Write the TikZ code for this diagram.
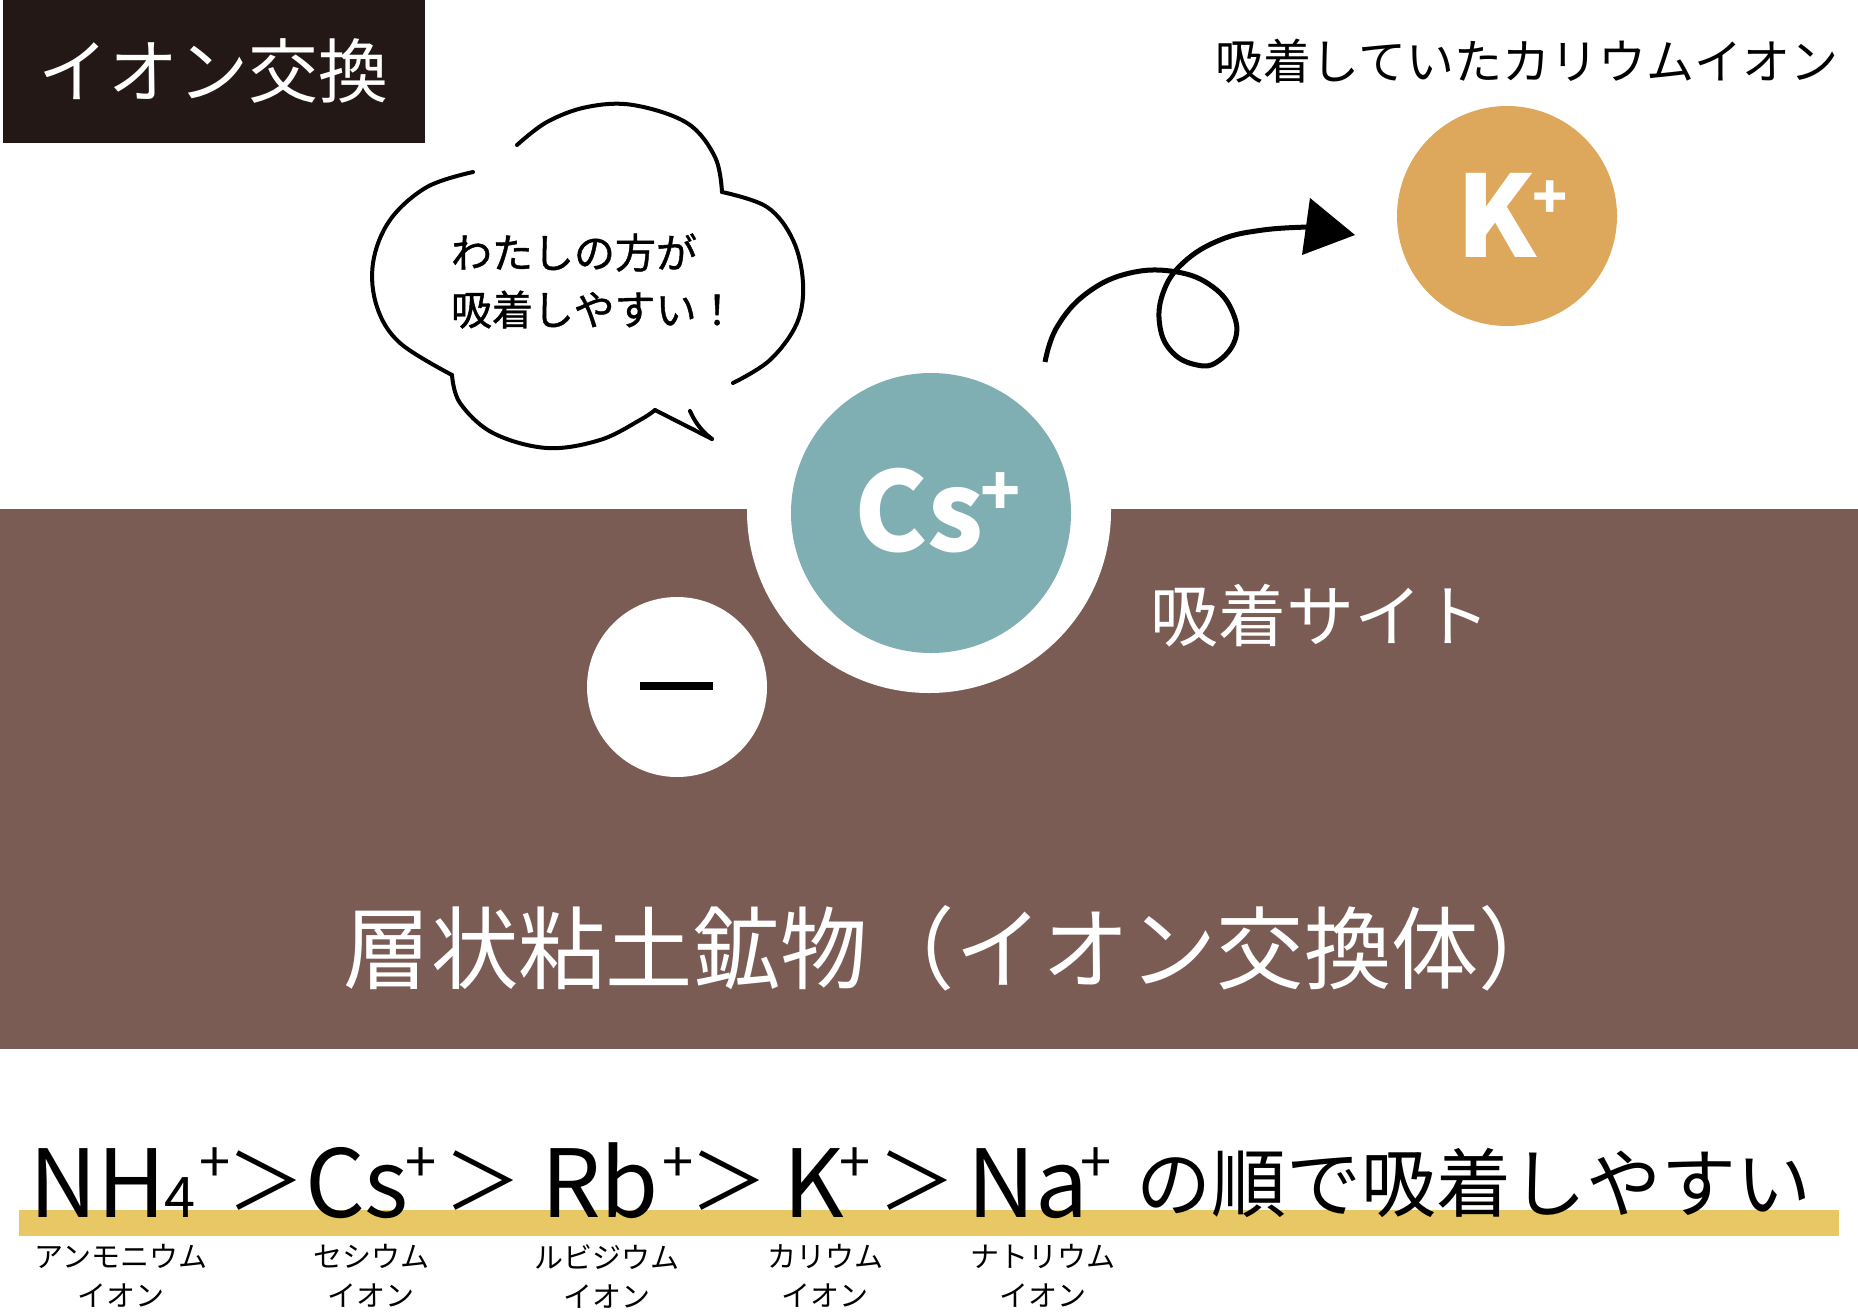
\documentclass[tikz,border=0pt]{standalone}
\usepackage{fontspec}
\setmainfont{Noto Sans CJK JP}
\newfontfamily\jpsemi[FakeBold=1]{Noto Sans CJK JP}
\usepackage{graphicx}
\newcommand\myfs[2]{\fontsize{#1pt}{#2pt}\selectfont}
\definecolor{clay}{HTML}{7A5C55}
\definecolor{csteal}{HTML}{7FAFB2}
\definecolor{kgold}{HTML}{DDA85B}
\definecolor{barcol}{HTML}{E8C865}
\definecolor{titlebg}{HTML}{231815}
\begin{document}
\begin{tikzpicture}[x=1pt,y=-1pt,
  lbl/.style={inner sep=0pt, outer sep=0pt},
  disc/.style={circle, inner sep=0pt, outer sep=0pt},
  bubble/.style={line width=4pt, line cap=round, line join=round},
  ioncap/.style={lbl, align=center, font=\myfs{29}{39}},
  big/.style={lbl, font=\myfs{94}{94}},
  supplus/.style={lbl, font=\myfs{56}{56}},
  gtsign/.style={lbl, font=\myfs{77}{77}}]
\useasboundingbox (0,0) rectangle (1858,1315);
\fill[white] (0,0) rectangle (1858,1315);
% clay band
\node[lbl, fill=clay, anchor=north west, minimum width=1858pt, minimum height=540pt] (band) at (0,509) {};
% title box
\node[lbl, fill=titlebg, anchor=north west, minimum width=422pt, minimum height=143pt] (titlebox) at (3,0) {};
\node[lbl, text=white, font=\myfs{70}{70}] (title) at (213,71) {イオン交換};
% K ion
\node[lbl, font=\myfs{48}{48}] (ktitle) at (1527,61) {吸着していたカリウムイオン};
\node[disc, fill=kgold, minimum size=220pt] (kion) at (1507,216) {};
\node[lbl, text=white, font=\bfseries\myfs{113}{113}, anchor=base] (klbl) at (1496,257) {K};
\node[lbl, text=white, font=\bfseries\myfs{58}{58}] (kplus) at (1550,200) {+};
% Cs ion with halo
\node[disc, fill=white, minimum size=364pt] (halo) at (929,511) {};
\node[disc, fill=csteal, minimum size=280pt] (cs) at (931,513) {};
\node[lbl, text=white, font=\bfseries\myfs{110}{110}, anchor=base] (cslbl) at (919,551) {Cs};
\node[lbl, text=white, font=\bfseries\myfs{66}{66}] (csplus) at (1001,494) {+};
% negative site
\node[disc, fill=white, minimum size=180pt] (neg) at (677,687) {};
\fill[black] (640,682) rectangle (713,690);
\node[lbl, text=white, font=\myfs{68}{68}] (site) at (1320,616) {吸着サイト};
\node[lbl, text=white, font=\myfs{90}{90}] (mineral) at (955,948) {\scalebox{0.97}[1]{層状粘土鉱物（イオン交換体）}};
% speech bubble
\draw[bubble] plot[smooth, tension=0.6] coordinates {(473,172) (427,187) (390,220) (373,263) (377,307) (400,343) (452,375)};
\draw[bubble] plot[smooth, tension=0.6] coordinates {(452,375) (460,403) (493,433) (547,448) (600,440) (640,420) (655,410)};
\draw[bubble] (655,410) -- (712,439);
\draw[bubble] (712,439) .. controls (700,430) and (694,420) .. (690,411);
\draw[bubble] plot[smooth, tension=0.6] coordinates {(733,383) (770,360) (797,323) (803,283) (793,240) (767,207) (722,192)};
\draw[bubble] plot[smooth, tension=0.6] coordinates {(722,192) (715,157) (687,123) (633,105) (587,107) (547,122) (517,145)};
\node[lbl, anchor=west, align=left, font=\jpsemi\myfs{41}{57}] (say) at (451,281) {わたしの方が\\吸着しやすい！};
% curly arrow
\coordinate (arrS) at (1045,362);
\coordinate (arrE) at (1310,227);
\draw[line width=5pt] plot[smooth, tension=0.7] coordinates {(arrS) (1057,327) (1087,293) (1130,273) (1177,272) (1213,287) (1233,313) (1235,340) (1217,362) (1197,365) (1173,353) (1160,327) (1163,293) (1183,263) (1220,240) (1263,230) (arrE)};
\fill (1310,198) -- (1355,235) -- (1302,255) -- cycle;
% order of adsorption
\fill[barcol] (19,1210) rectangle (1839,1236);
\node[big, anchor=base] (nh) at (98,1217) {NH};
\node[lbl, font=\myfs{56}{56}, anchor=base] (four) at (180,1217) {4};
\node[supplus] (p1) at (215,1165) {+};
\node[gtsign] (g1) at (266,1181) {＞};
\node[big, anchor=base] (cs2) at (357,1217) {Cs};
\node[supplus] (p2) at (421,1165) {+};
\node[gtsign] (g2) at (483,1181) {＞};
\node[big, anchor=base] (rb) at (600,1217) {Rb};
\node[supplus] (p3) at (678,1165) {+};
\node[gtsign] (g3) at (729,1181) {＞};
\node[big, anchor=base] (k2) at (814,1217) {K};
\node[supplus] (p4) at (855,1165) {+};
\node[gtsign] (g4) at (917,1181) {＞};
\node[big, anchor=base] (na) at (1028,1217) {Na};
\node[supplus] (p5) at (1096,1165) {+};
\node[lbl, font=\myfs{75}{75}] (order) at (1474,1183) {の順で吸着しやすい};
\node[ioncap] (c1) at (121,1276) {アンモニウム\\イオン};
\node[ioncap] (c2) at (371,1276) {セシウム\\イオン};
\node[ioncap] (c3) at (607,1276) {ルビジウム\\イオン};
\node[ioncap] (c4) at (825,1276) {カリウム\\イオン};
\node[ioncap] (c5) at (1043,1276) {ナトリウム\\イオン};
\end{tikzpicture}
\end{document}
